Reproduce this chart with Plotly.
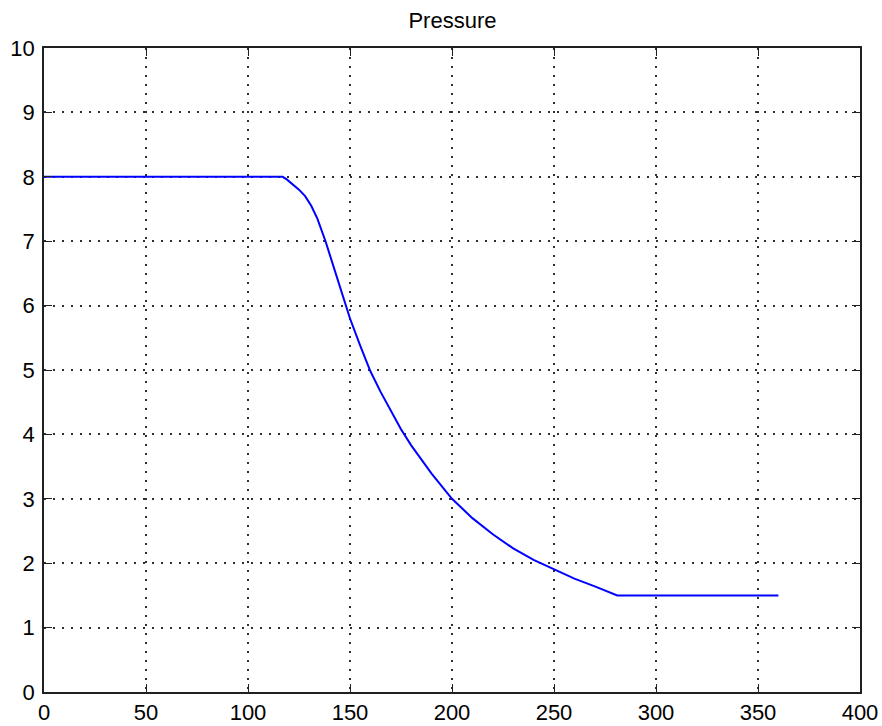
import plotly.graph_objects as go

# Data
angle = [0, 117, 119, 122, 125, 128, 131, 134, 136, 138, 140, 142, 144, 146, 148, 150,
         155, 160, 165, 170, 175, 180, 190, 200, 210, 220, 230, 240, 250, 260, 270,
         281, 360]
pressure = [8.0, 8.0, 7.96, 7.88, 7.8, 7.7, 7.55, 7.35, 7.18, 7.0, 6.8, 6.6, 6.38, 6.17,
            5.98, 5.8, 5.38, 4.98, 4.66, 4.36, 4.08, 3.83, 3.39, 3.0, 2.7, 2.45, 2.23,
            2.05, 1.9, 1.76, 1.64, 1.5, 1.5]
x_ticks = [0, 50, 100, 150, 200, 250, 300, 350, 400]
y_ticks = [0, 1, 2, 3, 4, 5, 6, 7, 8, 9, 10]

fig = go.Figure()
fig.add_trace(go.Scatter(x=angle, y=pressure, mode="lines",
                         line=dict(color="#0000FF", width=2), showlegend=False))

font = dict(family="Liberation Sans, Arial, sans-serif", size=22, color="#000000")
axis_common = dict(
    showline=True, linecolor="#202020", linewidth=1.5, mirror="ticks",
    ticks="inside", ticklen=8, tickcolor="#202020", tickwidth=1.2,
    showgrid=True, gridcolor="#303030", gridwidth=1.5, griddash="2px,7px",
    zeroline=False, tickfont=font, automargin=False,
)
fig.update_layout(
    width=882, height=726,
    margin=dict(l=44, r=22, t=48, b=34),
    paper_bgcolor="white", plot_bgcolor="white",
    title=dict(text="Pressure", font=font, x=0.513, xanchor="center",
               y=1 - 20 / 726, yanchor="middle", yref="container"),
    xaxis=dict(range=[0, 400], tickvals=x_ticks, ticklabelstandoff=0, **axis_common),
    yaxis=dict(range=[0, 10], tickvals=y_ticks, ticklabelstandoff=3, **axis_common),
)
fig.write_html("out.html")
